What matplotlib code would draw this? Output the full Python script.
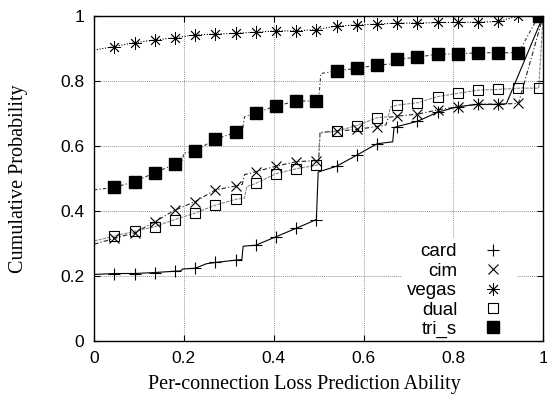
import numpy as np
import matplotlib.pyplot as plt
from matplotlib.lines import Line2D

# marker positions (shared x for all series)
mark_x = [0.045, 0.09, 0.135, 0.18, 0.225, 0.27, 0.315, 0.36, 0.405, 0.45, 0.495,
          0.54, 0.585, 0.63, 0.675, 0.72, 0.765, 0.81, 0.855, 0.90, 0.945, 0.99]

# card
card_x = [0, 0.045, 0.09, 0.135, 0.18, 0.193, 0.197, 0.225, 0.25, 0.27, 0.315, 0.329, 0.332,
          0.36, 0.405, 0.45, 0.495, 0.499, 0.54, 0.585, 0.63, 0.665, 0.668, 0.675, 0.72,
          0.765, 0.81, 0.855, 0.90, 0.918, 1.0]
card_y = [0.205, 0.208, 0.208, 0.211, 0.215, 0.216, 0.222, 0.224, 0.238, 0.242, 0.249, 0.251, 0.292,
          0.295, 0.321, 0.347, 0.374, 0.52, 0.538, 0.572, 0.607, 0.613, 0.657, 0.66, 0.676,
          0.704, 0.721, 0.728, 0.728, 0.73, 1.0]
card_m = [0.208, 0.208, 0.211, 0.215, 0.224, 0.242, 0.249, 0.295, 0.321, 0.347, 0.374,
          0.538, 0.572, 0.607, 0.66, 0.676, 0.704, 0.721, 0.728, 0.728]

# cim
cim_x = [0, 0.045, 0.09, 0.135, 0.18, 0.225, 0.27, 0.315, 0.33, 0.335, 0.36, 0.405, 0.45,
         0.495, 0.5, 0.503, 0.54, 0.585, 0.63, 0.65, 0.655, 0.675, 0.72, 0.765, 0.81, 0.855,
         0.90, 0.945, 1.0]
cim_y = [0.298, 0.316, 0.333, 0.367, 0.403, 0.429, 0.465, 0.477, 0.482, 0.512, 0.521, 0.538, 0.552,
         0.555, 0.556, 0.642, 0.646, 0.651, 0.66, 0.665, 0.688, 0.692, 0.698, 0.711, 0.721, 0.729,
         0.729, 0.731, 1.0]
cim_m = [0.316, 0.333, 0.367, 0.403, 0.429, 0.465, 0.477, 0.521, 0.538, 0.552, 0.555,
         0.646, 0.651, 0.66, 0.692, 0.698, 0.711, 0.721, 0.729, 0.729, 0.731]

# vegas
vegas_x = [0, 0.045, 0.09, 0.135, 0.18, 0.225, 0.27, 0.315, 0.36, 0.405, 0.45, 0.495, 0.54,
           0.585, 0.63, 0.675, 0.72, 0.765, 0.81, 0.855, 0.90, 0.945, 1.0]
vegas_y = [0.895, 0.906, 0.918, 0.926, 0.933, 0.942, 0.944, 0.947, 0.95, 0.954, 0.954, 0.958, 0.969,
           0.972, 0.975, 0.978, 0.978, 0.98, 0.98, 0.981, 0.983, 1.0, 1.0]
vegas_m = [0.906, 0.918, 0.926, 0.933, 0.942, 0.944, 0.947, 0.95, 0.954, 0.954, 0.958,
           0.969, 0.972, 0.975, 0.978, 0.978, 0.98, 0.98, 0.981, 0.983, 1.0]

# dual
dual_x = [0, 0.045, 0.09, 0.135, 0.18, 0.225, 0.27, 0.315, 0.335, 0.34, 0.36, 0.405, 0.45,
          0.495, 0.5, 0.503, 0.54, 0.585, 0.63, 0.655, 0.66, 0.675, 0.72, 0.765, 0.81, 0.855,
          0.90, 0.945, 0.99, 1.0]
dual_y = [0.308, 0.323, 0.338, 0.352, 0.374, 0.394, 0.418, 0.436, 0.44, 0.475, 0.485, 0.515, 0.53,
          0.541, 0.542, 0.64, 0.646, 0.663, 0.687, 0.69, 0.72, 0.726, 0.733, 0.752, 0.762, 0.772,
          0.774, 0.778, 0.778, 1.0]
dual_m = [0.323, 0.338, 0.352, 0.374, 0.394, 0.418, 0.436, 0.485, 0.515, 0.53, 0.541,
          0.646, 0.663, 0.687, 0.726, 0.733, 0.752, 0.762, 0.772, 0.774, 0.778, 0.778]

# tri_s
tri_x = [0, 0.045, 0.09, 0.135, 0.18, 0.195, 0.2, 0.225, 0.27, 0.315, 0.33, 0.335, 0.36, 0.405,
         0.45, 0.495, 0.5, 0.505, 0.54, 0.585, 0.63, 0.66, 0.665, 0.675, 0.72, 0.765, 0.81,
         0.855, 0.90, 0.945, 0.99, 1.0]
tri_y = [0.465, 0.473, 0.49, 0.518, 0.544, 0.548, 0.578, 0.585, 0.621, 0.642, 0.645, 0.69, 0.702, 0.723,
         0.738, 0.739, 0.74, 0.823, 0.831, 0.839, 0.849, 0.852, 0.864, 0.867, 0.873, 0.883, 0.883,
         0.887, 0.887, 0.887, 1.0, 1.0]
tri_m = [0.473, 0.49, 0.518, 0.544, 0.585, 0.621, 0.642, 0.702, 0.723, 0.738, 0.739,
         0.831, 0.839, 0.849, 0.867, 0.873, 0.883, 0.883, 0.887, 0.887, 0.887, 1.0]

fig = plt.figure(figsize=(5.47, 3.99), dpi=100)
ax = fig.add_axes([0.172, 0.145, 0.821, 0.815])

lw = 0.8
ax.plot(card_x, card_y, color="black", lw=lw, ls="-")
ax.plot(cim_x, cim_y, color="#222222", lw=lw, ls=(0, (4, 2, 1, 2)))
ax.plot(vegas_x, vegas_y, color="black", lw=lw, ls=(0, (1, 1.5)))
ax.plot(dual_x, dual_y, color="#888888", lw=lw, ls=(0, (3, 1)))
ax.plot(tri_x, tri_y, color="#333333", lw=lw, ls=(0, (3, 2, 1, 2)))

star = (8, 2, 0)
ax.plot(mark_x[:len(card_m)], card_m, ls="none", marker="+", ms=8, mew=0.8, color="black")
ax.plot(mark_x[:len(cim_m)], cim_m, ls="none", marker="x", ms=7, mew=0.8, color="black")
ax.plot(mark_x[:len(vegas_m)], vegas_m, ls="none", marker=star, ms=9, mew=0.6, color="black")
ax.plot(mark_x[:len(dual_m)], dual_m, ls="none", marker="s", ms=7, mew=0.8, mfc="none", mec="black")
ax.plot(mark_x[:len(tri_m)], tri_m, ls="none", marker="s", ms=8, color="black")

ax.set_xlim(0, 1)
ax.set_ylim(0, 1)
ax.set_xticks([0, 0.2, 0.4, 0.6, 0.8, 1])
ax.set_yticks([0, 0.2, 0.4, 0.6, 0.8, 1])
ax.set_xticklabels(["0", "0.2", "0.4", "0.6", "0.8", "1"])
ax.set_yticklabels(["0", "0.2", "0.4", "0.6", "0.8", "1"])
ax.tick_params(direction="in", length=4, width=0.8, top=True, right=True,
               labelsize=12.5, pad=7)
for lab in ax.get_xticklabels() + ax.get_yticklabels():
    lab.set_family("Liberation Sans")
ax.grid(True, color="#999999", ls=(0, (1, 1)), lw=0.7)
for s in ax.spines.values():
    s.set_linewidth(1.0)

ax.set_xlabel("Per-connection Loss Prediction Ability", family="Liberation Serif", fontsize=14.5)
ax.set_ylabel("Cumulative Probability", family="Liberation Serif", fontsize=14.5)
ax.xaxis.set_label_coords(0.468, -0.105)
ax.yaxis.set_label_coords(-0.147, 0.5)

handles = [
    Line2D([], [], ls="none", marker="+", ms=8, mew=0.8, color="black"),
    Line2D([], [], ls="none", marker="x", ms=7, mew=0.8, color="black"),
    Line2D([], [], ls="none", marker=star, ms=9, mew=0.6, color="black"),
    Line2D([], [], ls="none", marker="s", ms=7, mew=0.8, mfc="none", mec="black"),
    Line2D([], [], ls="none", marker="s", ms=8, color="black"),
]
leg = ax.legend(handles, ["card", "cim", "vegas", "dual", "tri_s"], loc="lower right",
                bbox_to_anchor=(0.963, -0.037), markerfirst=False, frameon=True,
                facecolor="white", edgecolor="none", framealpha=1, fancybox=False,
                prop={"family": "Liberation Sans", "size": 13.5}, labelspacing=0.12,
                handletextpad=0.9, borderpad=0.3)
leg.set_zorder(2.2)  # keep the frame under the axes border

fig.savefig("out.png", dpi=100)
